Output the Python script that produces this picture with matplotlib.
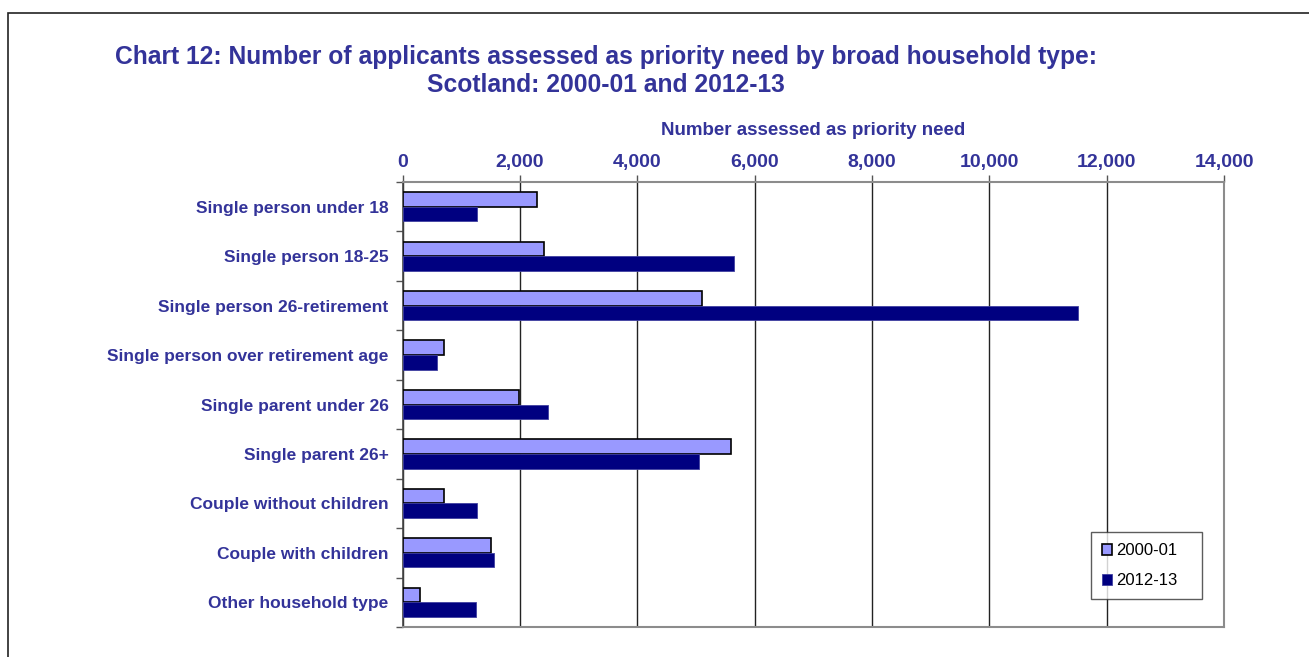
import numpy as np
import matplotlib.pyplot as plt
from matplotlib.patches import Rectangle

plt.rcParams['font.family'] = ['Liberation Sans', 'DejaVu Sans']

categories = ['Single person under 18', 'Single person 18-25', 'Single person 26-retirement',
              'Single person over retirement age', 'Single parent under 26', 'Single parent 26+',
              'Couple without children', 'Couple with children', 'Other household type']
y2000 = [2300, 2405, 5097, 702, 1990, 5596, 702, 1500, 303]
y2012 = [1270, 5647, 11519, 583, 2484, 5051, 1264, 1554, 1252]
xticks = [0, 2000, 4000, 6000, 8000, 10000, 12000, 14000]

navy_text = '#333399'
light = '#9999FF'
dark = '#000080'

fig = plt.figure(figsize=(13.09, 6.57), dpi=100)
ax = fig.add_axes([402.5 / 1309, 1 - 627 / 657, 821.5 / 1309, 445 / 657])

pos = np.arange(len(categories))
h = 0.295
ax.barh(pos - h / 2, y2000, height=h, color=light, edgecolor='black', linewidth=1.2,
        label='2000-01', zorder=3)
ax.barh(pos + h / 2, y2012, height=h, color=dark, edgecolor='#4040a0', linewidth=0.6,
        label='2012-13', zorder=3)

ax.set_ylim(len(categories) - 0.5, -0.5)
ax.set_xlim(0, 14000)

ax.xaxis.tick_top()
ax.xaxis.set_label_position('top')
ax.set_xticks(xticks)
ax.set_xticklabels([f'{v:,}' for v in xticks], fontsize=14, fontweight='bold', color=navy_text)
ax.tick_params(axis='x', length=5, width=1, color='#555555', pad=3)
ax.set_xlabel('Number assessed as priority need', fontsize=13.5, fontweight='bold',
              color=navy_text, labelpad=13.5)

ax.set_yticks(pos)
ax.set_yticklabels(categories, fontsize=12.5, fontweight='bold', color=navy_text)
ax.set_yticks(np.arange(len(categories) + 1) - 0.5, minor=True)
ax.tick_params(axis='y', which='major', length=0, pad=10)
ax.tick_params(axis='y', which='minor', length=5, width=1, color='#555555')

ax.grid(axis='x', color='#222222', linewidth=1, zorder=1)
for side in ['top', 'right', 'bottom']:
    ax.spines[side].set_color('#8c8c8c')
    ax.spines[side].set_linewidth(1.5)
ax.spines['left'].set_color('#444444')
ax.spines['left'].set_linewidth(1.2)

leg = ax.legend(loc='lower left', bbox_to_anchor=(0.838, 0.063, 0.135, 0.146), mode='expand',
                fancybox=False, frameon=True, fontsize=12, handlelength=0.6, handleheight=0.6,
                handletextpad=0.25, borderaxespad=0, labelspacing=0.9, borderpad=0.65)
leg.get_frame().set_edgecolor('#333333')
leg.get_frame().set_linewidth(1)
for t in leg.get_texts():
    t.set_color('black')

fig.text(606 / 1309, 1 - 57 / 657,
         'Chart 12: Number of applicants assessed as priority need by broad household type:',
         ha='center', va='center', fontsize=17.7, fontweight='bold', color=navy_text)
fig.text(606 / 1309, 1 - 85 / 657, 'Scotland: 2000-01 and 2012-13',
         ha='center', va='center', fontsize=17.7, fontweight='bold', color=navy_text)

# chart frame, open to the right and bottom
fig.patches.append(Rectangle((8 / 1309, -0.1), 1.2, 1.1 - 13 / 657, transform=fig.transFigure,
                             fill=False, edgecolor='#222222', linewidth=1.2))

fig.savefig('out.png', dpi=100)
